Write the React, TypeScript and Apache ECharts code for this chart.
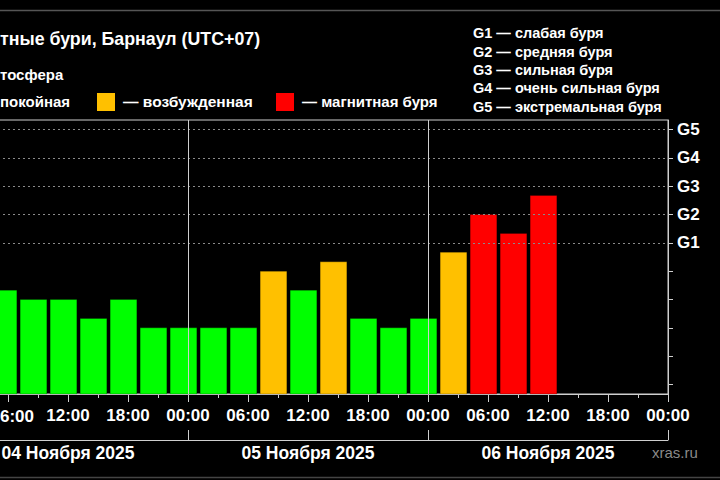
import React, { useEffect, useRef } from "react";
import * as echarts from "echarts";

// 3-hour slots (local time, UTC+07) and Kp index values
const slotStarts = [
  "2025-11-04 04:00", "2025-11-04 07:00", "2025-11-04 10:00", "2025-11-04 13:00",
  "2025-11-04 16:00", "2025-11-04 19:00", "2025-11-04 22:00", "2025-11-05 01:00",
  "2025-11-05 04:00", "2025-11-05 07:00", "2025-11-05 10:00", "2025-11-05 13:00",
  "2025-11-05 16:00", "2025-11-05 19:00", "2025-11-05 22:00", "2025-11-06 01:00",
  "2025-11-06 04:00", "2025-11-06 07:00", "2025-11-06 10:00",
];
const kpValues = [3.33, 3, 3, 2.33, 3, 2, 2, 2, 2, 4, 3.33, 4.33, 2.33, 2, 2.33, 4.67, 6, 5.33, 6.67];

const gLevels = [5, 6, 7, 8, 9];
const gLabels = ["G1", "G2", "G3", "G4", "G5"];
const kpTicks = [0, 1, 2, 3, 4, 5, 6, 7, 8, 9];
const gLegend = [
  "G1 — слабая буря",
  "G2 — средняя буря",
  "G3 — сильная буря",
  "G4 — очень сильная буря",
  "G5 — экстремальная буря",
];
const firstDay = "2025-11-04";
const dayLabels = ["04 Ноября 2025", "05 Ноября 2025", "06 Ноября 2025"];
// hour labels fully inside the picture (the 06:00 one is cut by the frame edge)
const hourLabelValues = [12, 18, 24, 30, 36, 42, 48, 54, 60, 66, 72];
const edgeHourLabel = "6:00";

const Y_MIN = -1 / 3;
const Y_MAX = 9 + 1 / 3;
const FONT = "'Liberation Sans', Arial, sans-serif";

// hours elapsed since the first day's 00:00
function hoursOf(s: string): number {
  const [d, t] = s.split(" ");
  const [y, m, dd] = d.split("-").map(Number);
  const [h, mi] = t.split(":").map(Number);
  const [y0, m0, d0] = firstDay.split("-").map(Number);
  return (Date.UTC(y, m - 1, dd, h, mi) - Date.UTC(y0, m0 - 1, d0)) / 3600000;
}

function colorFor(kp: number): string {
  if (kp >= 5) return "#ff0000";
  if (kp >= 4) return "#ffc000";
  return "#00ff00";
}

export default function App() {
  const ref = useRef<HTMLDivElement>(null);

  useEffect(() => {
    if (!ref.current) return;
    const chart = echarts.init(ref.current, null, { renderer: "svg" });

    const X_MAX = dayLabels.length * 24;
    const noonTicks = dayLabels.map((_, i) => i * 24 + 12);
    const data = slotStarts.map((s, i) => [hoursOf(s), kpValues[i]]);
    const pad = (n: number) => (n < 10 ? "0" + n : "" + n);

    const option: any = {
      animation: false,
      backgroundColor: "#000",
      grid: {
        left: -52,
        right: 52,
        top: 120,
        bottom: 86,
        outerBoundsMode: "none",
        containLabel: false,
        show: true,
        borderColor: "#cfcfcf",
        borderWidth: 1,
        backgroundColor: "transparent",
      },
      xAxis: [
        {
          type: "value",
          min: 0,
          max: X_MAX,
          interval: 6,
          axisLine: { show: true, onZero: false, lineStyle: { color: "#cfcfcf", width: 1 } },
          axisTick: { show: true, length: 8, lineStyle: { color: "#cfcfcf" } },
          axisLabel: {
            customValues: hourLabelValues,
            formatter: (v: number) => pad(Math.round(v) % 24) + ":00",
            color: "#fff",
            fontFamily: FONT,
            fontWeight: "bold",
            fontSize: 17,
            margin: 13,
            hideOverlap: false,
          },
          splitLine: { show: false },
        },
        {
          type: "value",
          min: 0,
          max: X_MAX,
          interval: 3,
          position: "bottom",
          axisLine: { show: false, onZero: false },
          axisTick: { show: true, length: 4, lineStyle: { color: "#cfcfcf" } },
          axisLabel: { show: false },
          splitLine: { show: false },
        },
        {
          type: "value",
          min: 0,
          max: X_MAX,
          interval: 24,
          position: "bottom",
          offset: 46,
          axisLine: { show: true, onZero: false, lineStyle: { color: "#cfcfcf", width: 1 } },
          axisTick: { show: true, inside: true, length: 10, lineStyle: { color: "#cfcfcf" } },
          axisLabel: {
            customValues: noonTicks,
            formatter: (v: number) => {
              const i = Math.floor(v / 24);
              return dayLabels[i] ?? "";
            },
            color: "#fff",
            fontFamily: FONT,
            fontWeight: "bold",
            fontSize: 17.5,
            margin: 4,
            hideOverlap: false,
          },
          splitLine: { show: false },
        },
      ],
      yAxis: {
        type: "value",
        position: "right",
        min: Y_MIN,
        max: Y_MAX,
        axisLine: { show: true, onZero: false, lineStyle: { color: "#cfcfcf", width: 1 } },
        axisTick: { show: true, customValues: kpTicks, length: 5, lineStyle: { color: "#cfcfcf" } },
        axisLabel: {
          customValues: gLevels,
          formatter: (v: number) => {
            const i = gLevels.indexOf(Math.round(v));
            return i >= 0 ? gLabels[i] : "";
          },
          color: "#fff",
          fontFamily: FONT,
          fontWeight: "bold",
          fontSize: 17,
          margin: 9,
        },
        splitLine: { show: false },
      },
      series: [
        {
          type: "custom",
          xAxisIndex: 0,
          yAxisIndex: 0,
          encode: { x: 0, y: 1 },
          data,
          renderItem: (params: any, api: any) => {
            const start = api.value(0);
            const kp = api.value(1);
            const pLeft = api.coord([start, kp]);
            const pRight = api.coord([start + 3, Y_MIN]);
            const slotW = pRight[0] - pLeft[0];
            const barW = slotW * 0.89;
            const x = pLeft[0] + (slotW - barW) / 2 + 0.5;
            return {
              type: "rect",
              shape: { x, y: pLeft[1], width: barW, height: pRight[1] - pLeft[1] },
              style: { fill: colorFor(kp), stroke: "rgba(0,0,0,0.25)", lineWidth: 1 },
            };
          },
          markLine: {
            silent: true,
            symbol: "none",
            label: { show: false },
            data: [
              ...gLevels.map((v) => ({
                yAxis: v,
                lineStyle: { color: "#8a8a8a", type: [2, 3], width: 1 },
              })),
              ...[24, 48].map((v) => ({
                xAxis: v,
                lineStyle: { color: "#cfcfcf", type: "solid", width: 1 },
              })),
            ],
          },
          z: 2,
        },
      ],
      graphic: [
        { type: "line", shape: { x1: 0, y1: 10.5, x2: 720, y2: 10.5 }, style: { stroke: "#555", lineWidth: 1.5 } },
        { type: "line", shape: { x1: 0, y1: 477.5, x2: 720, y2: 477.5 }, style: { stroke: "#444", lineWidth: 1.5 } },
        {
          type: "text", x: 0, y: 39,
          style: { text: "тные бури, Барнаул (UTC+07)", fill: "#fff", font: `bold 17.8px ${FONT}`, verticalAlign: "middle" },
        },
        {
          type: "text", x: 0, y: 74,
          style: { text: "тосфера", fill: "#fff", font: `bold 15px ${FONT}`, verticalAlign: "middle" },
        },
        {
          type: "text", x: 0, y: 101,
          style: { text: "покойная", fill: "#fff", font: `bold 15px ${FONT}`, verticalAlign: "middle" },
        },
        { type: "rect", shape: { x: 97, y: 93, width: 18, height: 18 }, style: { fill: "#ffc000" } },
        {
          type: "text", x: 123, y: 101,
          style: { text: "— возбужденная", fill: "#fff", font: `bold 15.5px ${FONT}`, verticalAlign: "middle" },
        },
        { type: "rect", shape: { x: 276, y: 93, width: 18, height: 18 }, style: { fill: "#ff0000" } },
        {
          type: "text", x: 302, y: 101,
          style: { text: "— магнитная буря", fill: "#fff", font: `bold 15px ${FONT}`, verticalAlign: "middle" },
        },
        ...gLegend.map((t, i) => ({
          type: "text", x: 473, y: 33.3 + i * 18.35,
          style: { text: t, fill: "#fff", font: `bold 14.5px ${FONT}`, verticalAlign: "middle" },
        })),
        {
          type: "text", x: 0, y: 416,
          style: { text: edgeHourLabel, fill: "#fff", font: `bold 17px ${FONT}`, verticalAlign: "middle" },
        },
        {
          type: "text", x: 652, y: 452,
          style: { text: "xras.ru", fill: "#8a8a8a", font: `15px ${FONT}`, verticalAlign: "middle" },
        },
      ],
    };

    chart.setOption(option);
    return () => chart.dispose();
  }, []);

  return (
    <div
      ref={ref}
      style={{ position: "fixed", left: 0, top: 0, width: 720, height: 480, background: "#000" }}
    />
  );
}
